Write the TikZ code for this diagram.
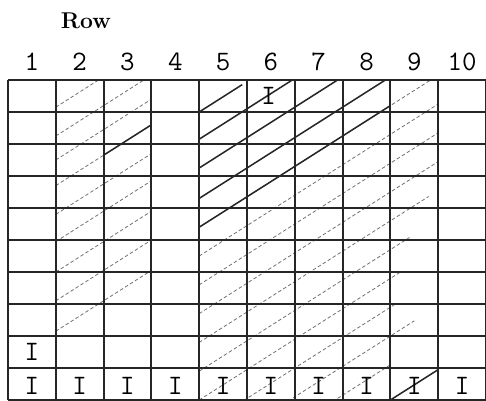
\documentclass[tikz,border=0pt]{standalone}
\usepackage{fontspec}
\begin{document}
\begin{tikzpicture}[x=1.434cm, y=-0.96cm,
  gridline/.style={line width=1.7pt, black!85},
  heavy/.style={line width=1.3pt, black!85},
  faint/.style={line width=0.7pt, black!55, dash pattern=on 3pt off 2pt},
  tw/.style={font=\fontsize{24}{26}\selectfont\ttfamily, inner sep=0pt}]
\useasboundingbox (-0.167,-2.5) rectangle (10,10);
% header
\node[font=\fontsize{19.5}{22}\selectfont\bfseries] (row) at (1.63,-1.84) {Row};
\foreach \c in {1,...,10}
  \node[tw] (col\c) at (\c-0.5,-0.56) {\c};
% hatching in columns 2 and 3
\begin{scope}
\clip (1,0) rectangle (3,10);
\foreach \k in {0.85,1.75,2.5,3.3,4.2,5.05,6.0,6.9,7.85}
  \draw[faint] (1,\k) -- (3,\k-1.9);
\draw[heavy] (2,2.35) -- (3,1.4);
\end{scope}
% hatching in columns 5 to 9
\begin{scope}
\clip (4,0) rectangle (9,10);
\foreach \k/\e in {4.6/9,5.5/9,6.4/9,7.3/9,8.2/8.8,9.1/8.4,10.0/8.2,10.9/8.1,11.8/8.5,12.7/8}
  \draw[faint] (4,\k) -- (\e,{\k-0.95*(\e-4)});
\foreach \k/\e in {1.0/4.9,1.85/8,2.75/8,3.7/8,4.6/8}
  \draw[heavy] (4,\k) -- (\e,{\k-0.95*(\e-4)});
\draw[heavy] (8,10) -- (9,9.05);
\end{scope}
% grid
\foreach \c in {0,...,10}
  \draw[gridline] (\c,0) -- (\c,10);
\foreach \r in {0,...,10}
  \draw[gridline] (0,\r) -- (10,\r);
% marks
\node[tw] (mark6) at (5.45,0.5) {I};
\node[tw] (mark1) at (0.5,8.5) {I};
\foreach \c in {1,...,10}
  \node[tw] (base\c) at (\c-0.5,9.55) {I};
\end{tikzpicture}
\end{document}
